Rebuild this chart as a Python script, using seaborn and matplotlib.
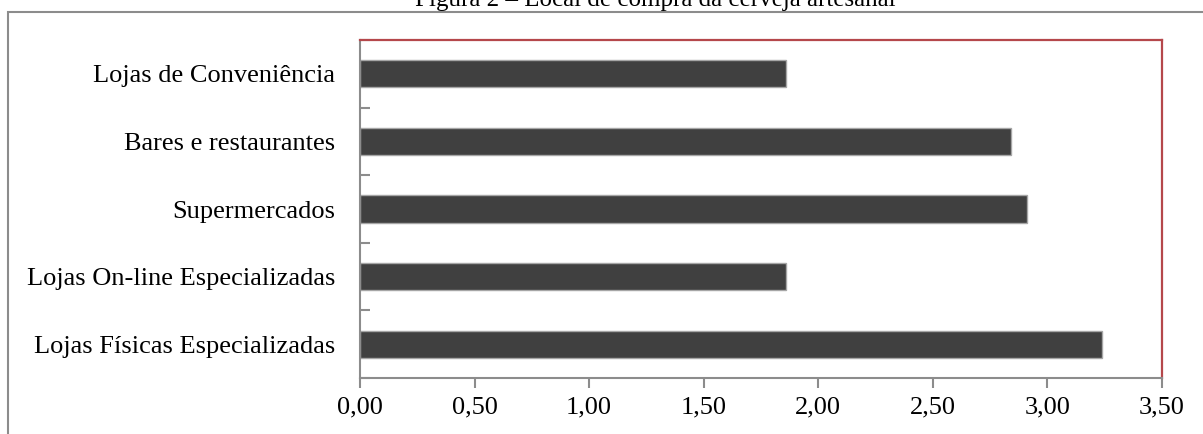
import matplotlib
matplotlib.use("Agg")
import matplotlib.pyplot as plt
import seaborn as sns
import pandas as pd
import numpy as np
from matplotlib.patches import Rectangle
from matplotlib.ticker import FixedLocator, FuncFormatter

# Purchase locations and mean scores
locais = [
    "Lojas de Conveniência",
    "Bares e restaurantes",
    "Supermercados",
    "Lojas On-line Especializadas",
    "Lojas Físicas Especializadas",
]
medias = [1.86, 2.84, 2.91, 1.86, 3.24]
x_ticks = [0.0, 0.5, 1.0, 1.5, 2.0, 2.5, 3.0, 3.5]

titulo = "Figura 2 – Local de compra da cerveja artesanal"

sns.set_theme(style="white")
plt.rcParams["font.family"] = ["Liberation Serif", "DejaVu Serif"]

W, H = 1203, 434
fig = plt.figure(figsize=(W / 100, H / 100), dpi=100)
fig.patch.set_facecolor("white")

# outer frame of the chart area
fig.patches.append(Rectangle((8 / W, -0.1), 1.2, 1 - 12 / H + 0.1,
                             transform=fig.transFigure, fill=False,
                             edgecolor="#8c8c8c", linewidth=1.5, zorder=0))

ax = fig.add_axes([360 / W, 1 - 378 / H, (1162 - 360) / W, (378 - 40) / H])

df = pd.DataFrame({"local": locais, "media": medias})
sns.barplot(data=df, x="media", y="local", order=locais, orient="h",
            color="#404040", saturation=1, width=0.4,
            edgecolor="#a6a6a6", linewidth=1.0, ax=ax)

ax.set_xlim(0, 3.5)
ax.set_ylim(len(locais) - 0.5, -0.5)
ax.set_xlabel("")
ax.set_ylabel("")

ax.xaxis.set_major_locator(FixedLocator(x_ticks))
ax.xaxis.set_major_formatter(FuncFormatter(lambda v, p: f"{v:.2f}".replace(".", ",")))
ax.tick_params(axis="x", direction="out", length=7.5, width=1.5,
               color="#8c8c8c", labelsize=19, pad=6, labelcolor="black", bottom=True)

# category labels without ticks, boundary ticks pointing inward
ax.tick_params(axis="y", which="major", length=0, pad=18, labelsize=19,
               labelcolor="black", left=True)
ax.yaxis.set_minor_locator(FixedLocator(np.arange(-0.5, len(locais), 1.0)))
ax.tick_params(axis="y", which="minor", direction="in", length=7.5, width=1.5,
               color="#8c8c8c", left=True)

for s in ["left", "bottom"]:
    ax.spines[s].set_color("#8c8c8c")
    ax.spines[s].set_linewidth(1.5)
for s in ["top", "right"]:
    ax.spines[s].set_color("#b5474b")
    ax.spines[s].set_linewidth(1.6)

fig.text(655 / W, 1 - 6 / H, titulo, ha="center", va="baseline",
         fontsize=18, color="black")

fig.savefig("out.png", dpi=100, facecolor="white")
